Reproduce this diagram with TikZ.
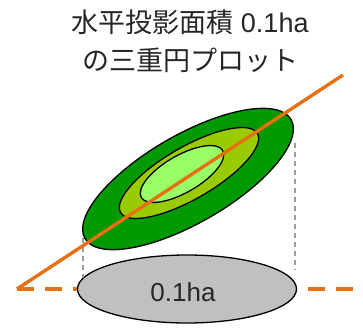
\documentclass[tikz,border=0pt]{standalone}
\usepackage{fontspec}
\setmainfont{Liberation Sans}
\newfontfamily\jpfont{Noto Sans CJK JP}
\usetikzlibrary{shapes.geometric}

\definecolor{plotorange}{RGB}{230,112,18}
\definecolor{ringouter}{RGB}{0,153,0}
\definecolor{ringmid}{RGB}{153,204,0}
\definecolor{ringinner}{RGB}{153,255,102}
\definecolor{footprint}{RGB}{192,192,192}
\definecolor{guide}{RGB}{155,155,155}

\tikzset{
  ring/.style={ellipse, draw=black, line width=1.3pt, inner sep=0pt, outer sep=0pt, rotate=30},
  groundline/.style={draw=plotorange, line width=3.4pt, dash pattern=on 17pt off 11pt},
  slopeline/.style={draw=plotorange, line width=3.4pt},
  dropline/.style={draw=guide, line width=2.4pt, dash pattern=on 5pt off 4pt},
  title/.style={align=center, font=\fontsize{27}{38}\selectfont, text=black!85},
}

\begin{document}
\begin{tikzpicture}[x=1pt, y=-1pt]
  \useasboundingbox (0,0) rectangle (363,329);

  % title
  \node[title] (title) at (190,41) {{\jpfont 水平投影面積} 0.1ha\\{\jpfont の三重円プロット}};

  % horizontal projection of the plot
  \node[ellipse, draw=black, line width=1.3pt, fill=footprint, inner sep=0pt,
        minimum width=219pt, minimum height=68pt] (foot) at (187,289) {};
  \node[font=\fontsize{26}{30}\selectfont, text=black!85] (area) at (183,292) {0.1ha};

  % level ground
  \coordinate (gl) at (17,289);
  \coordinate (gr) at (353,289);
  \draw[groundline] (gl) -- (foot.west);
  \draw[groundline] (gr) -- (foot.east);

  % vertical projection guides
  \coordinate (vl1) at (83,238);
  \coordinate (vl2) at (83,278);
  \coordinate (vr1) at (295,143);
  \coordinate (vr2) at (295,270);
  \draw[dropline] (vl1) -- (vl2);
  \draw[dropline] (vr1) -- (vr2);

  % triple concentric plot on the slope
  \node[ring, fill=ringouter, minimum width=238pt, minimum height=88pt] (outer) at (188,179) {};
  \node[ring, fill=ringmid, minimum width=158pt, minimum height=52pt] (mid) at (189,173) {};
  \node[ring, fill=ringinner, minimum width=94pt, minimum height=37pt] (inner) at (182,174) {};

  % slope
  \coordinate (st) at (343,75);
  \draw[slopeline] (gl) -- (st);
\end{tikzpicture}
\end{document}
